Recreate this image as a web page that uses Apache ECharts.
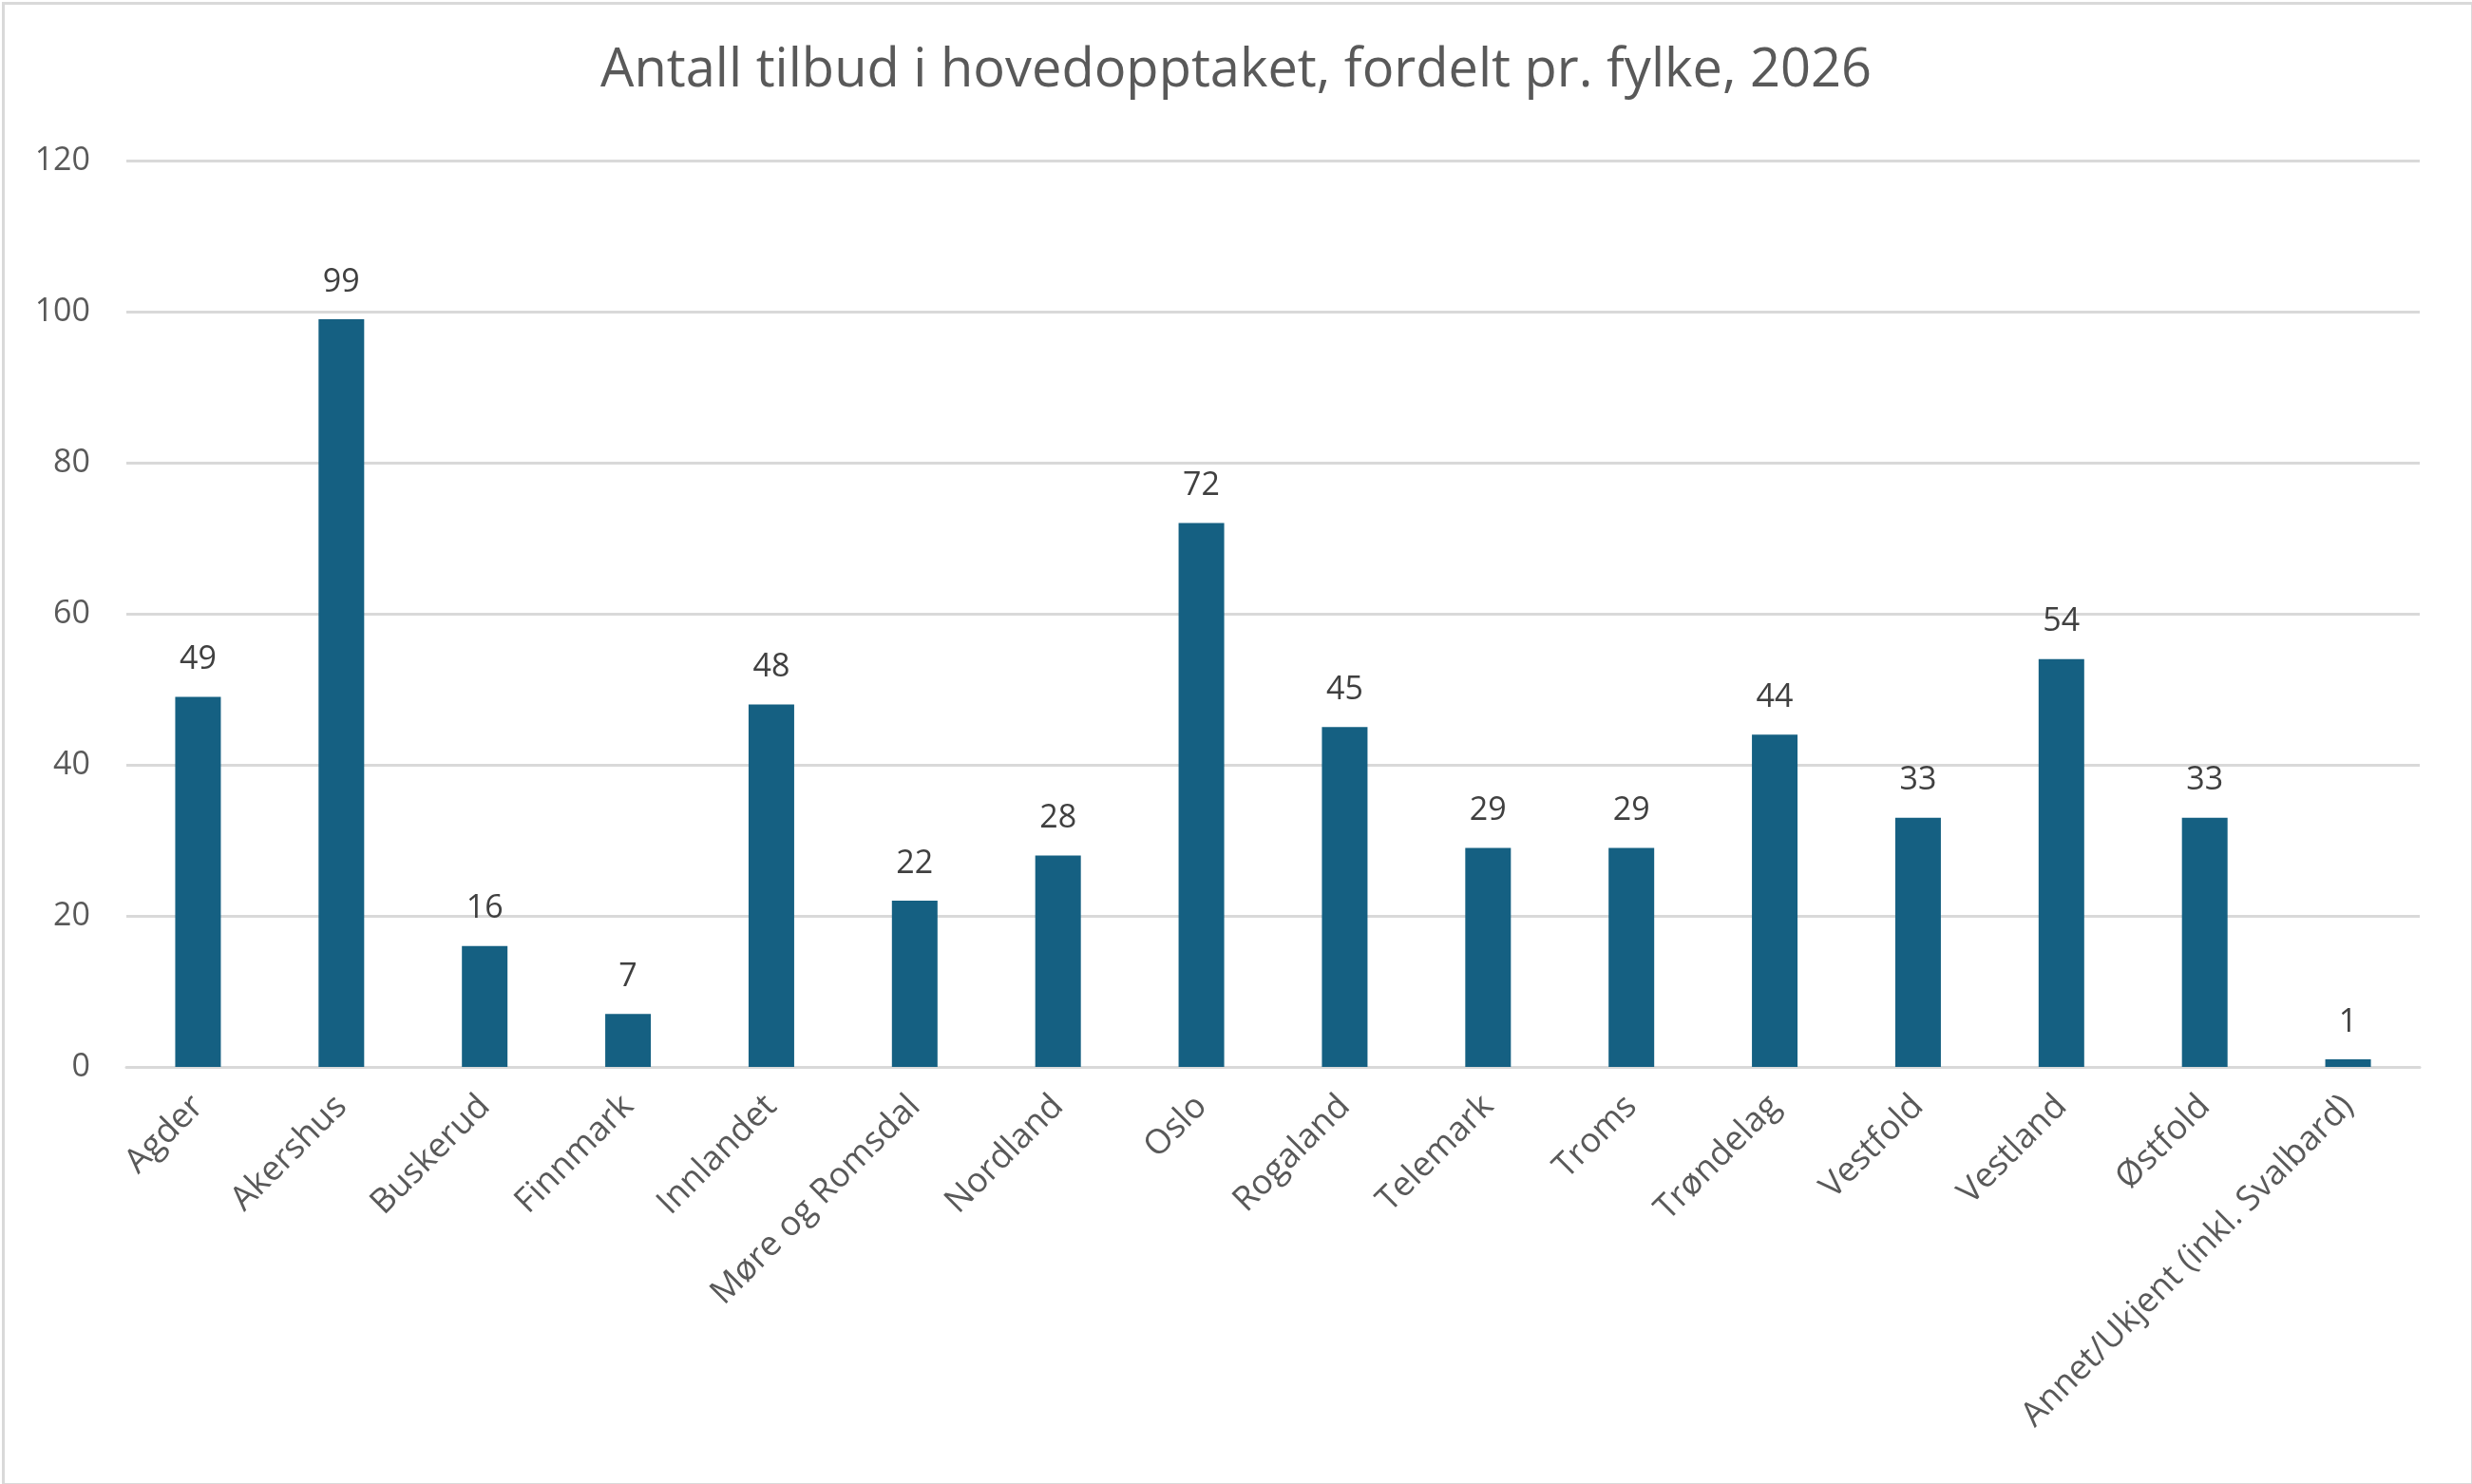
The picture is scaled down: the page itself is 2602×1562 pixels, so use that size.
<!DOCTYPE html>
<html><head><meta charset="utf-8">
<script src="https://cdn.jsdelivr.net/npm/echarts@6/dist/echarts.min.js"></script>
<style>html,body{margin:0;padding:0;background:#fff}#c{width:2602px;height:1562px}</style>
</head><body><div id="c"></div>
<script>
const titleText = 'Antall tilbud i hovedopptaket, fordelt pr. fylke, 2026';
const categories = ['Agder','Akershus','Buskerud','Finnmark','Innlandet','Møre og Romsdal','Nordland','Oslo','Rogaland','Telemark','Troms','Trøndelag','Vestfold','Vestland','Østfold','Annet/Ukjent (inkl. Svalbard)'];
const values = [49,99,16,7,48,22,28,72,45,29,29,44,33,54,33,1];
const yMin = 0, yMax = 120, yStep = 20;

const chart = echarts.init(document.getElementById('c'), null, {renderer:'canvas'});
const FONT = 'Open Sans';
chart.setOption({
  animation:false,
  backgroundColor:'#ffffff',
  graphic:[{type:'rect',left:1,top:1,shape:{width:2599,height:1559},style:{fill:'none',stroke:'#d9d9d9',lineWidth:3},silent:true}],
  title:{text:titleText,left:'center',top:42,textStyle:{fontFamily:FONT,fontWeight:'normal',fontSize:56,color:'#595959'}},
  grid:{left:133,right:55,top:169,bottom:439,containLabel:false},
  xAxis:{type:'category',data:categories,
    axisLine:{lineStyle:{color:'#d9d9d9',width:3}},axisTick:{show:false},
    axisLabel:{interval:0,rotate:45,margin:36,fontFamily:FONT,fontSize:36,color:'#595959'}},
  yAxis:{type:'value',min:yMin,max:yMax,interval:yStep,
    axisLine:{show:false},axisTick:{show:false},
    splitLine:{lineStyle:{color:'#d9d9d9',width:3}},
    axisLabel:{margin:38,fontFamily:FONT,fontSize:34,color:'#595959'}},
  series:[{type:'bar',data:values,barWidth:48,itemStyle:{color:'#156082'},
    label:{show:true,position:'top',distance:22,fontFamily:FONT,fontSize:34,color:'#404040'}}]
});
</script></body></html>
